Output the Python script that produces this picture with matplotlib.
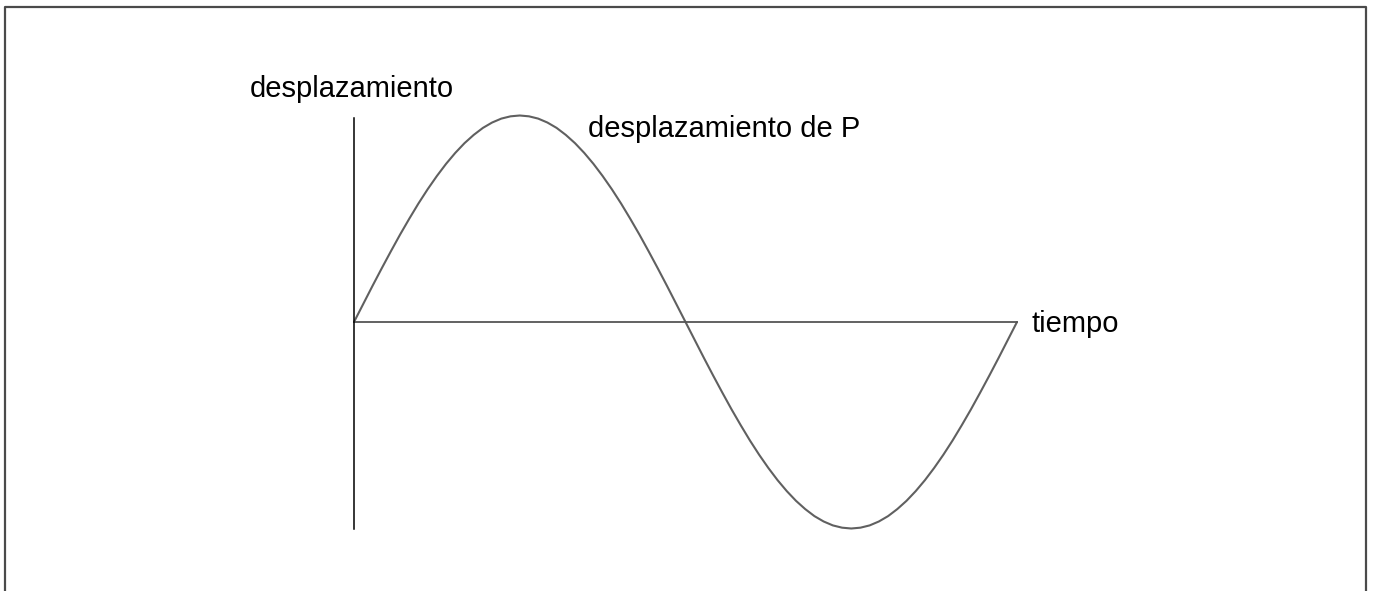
import matplotlib
matplotlib.use("Agg")
import matplotlib.pyplot as plt
from matplotlib.lines import Line2D

plt.rcParams['font.family'] = ['Liberation Sans', 'DejaVu Sans']

# displacement of P over one period, read at 1/72 steps
t = [i / 72 for i in range(73)]
disp = [0.0, 0.087, 0.174, 0.259, 0.342, 0.423, 0.5, 0.574, 0.643, 0.707,
        0.766, 0.819, 0.866, 0.906, 0.94, 0.966, 0.985, 0.996, 1.0,
        0.996, 0.985, 0.966, 0.94, 0.906, 0.866, 0.819, 0.766, 0.707,
        0.643, 0.574, 0.5, 0.423, 0.342, 0.259, 0.174, 0.087,
        0.0, -0.087, -0.174, -0.259, -0.342, -0.423, -0.5, -0.574, -0.643,
        -0.707, -0.766, -0.819, -0.866, -0.906, -0.94, -0.966, -0.985,
        -0.996, -1.0, -0.996, -0.985, -0.966, -0.94, -0.906, -0.866,
        -0.819, -0.766, -0.707, -0.643, -0.574, -0.5, -0.423, -0.342,
        -0.259, -0.174, -0.087, 0.0]

y_label = "desplazamiento"
x_label = "tiempo"
curve_label = "desplazamiento de P"

W, H = 1374, 591
x0, x1 = 354, 1017      # pixel positions of t=0 and t=1
y_zero, amp = 322, 206.5

fig = plt.figure(figsize=(W / 100, H / 100), dpi=100)
ax = fig.add_axes([0, 0, 1, 1])
sx = x1 - x0
ax.set_xlim(-x0 / sx, (W - x0) / sx)
ax.set_ylim(-(H - y_zero) / amp, y_zero / amp)
ax.axis('off')

ax.plot(t, disp, color='#606060', lw=1.5, solid_capstyle='round', solid_joinstyle='round')
ax.plot([0, 1], [0, 0], color='#555555', lw=1.3)
ax.plot([0, 0], [-1.0, 0.99], color='black', lw=1.1)

ax.text(-104 / sx, (y_zero - 97) / amp, y_label, fontsize=21, ha='left', va='baseline')
ax.text((588 - x0) / sx, (y_zero - 137) / amp, curve_label, fontsize=21, ha='left', va='baseline')
ax.text((1032 - x0) / sx, (y_zero - 332) / amp, x_label, fontsize=21, ha='left', va='baseline')

# frame around the picture (open at the bottom)
bx0, by0, bx1 = 4.5 / W, 1 - 6.5 / H, 1365.5 / W
fig.add_artist(Line2D([bx0, bx0, bx1, bx1], [0, by0, by0, 0],
                      transform=fig.transFigure, color='#4a4a4a', lw=1.6))

fig.savefig('out.png', dpi=100)
